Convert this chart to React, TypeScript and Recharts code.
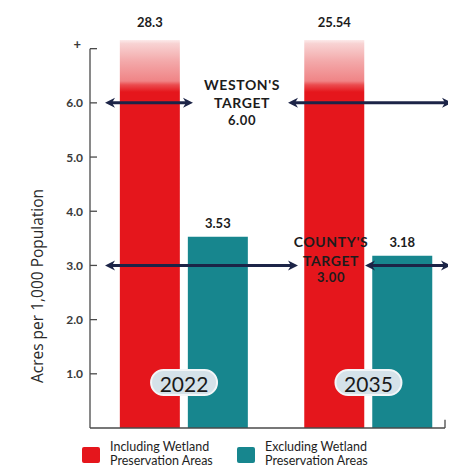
import React from 'react';
import { BarChart, Bar, XAxis, YAxis, ReferenceLine, LabelList, Label } from 'recharts';

// ---- data ----
const years = ['2022', '2035'];
const includingWetland = [28.3, 25.54];
const excludingWetland = [3.53, 3.18];
const targetNames = ["WESTON'S", "COUNTY'S"];
const targetValues = [6.0, 3.0];
const yTickValues = [1, 2, 3, 4, 5, 6, 7];
const yTickLabels = ['1.0', '2.0', '3.0', '4.0', '5.0', '6.0', '+'];
const seriesLines = [
  ['Including Wetland', 'Preservation Areas'],
  ['Excluding Wetland', 'Preservation Areas'],
];
const yAxisTitle = 'Acres per 1,000 Population';

const data = years.map((year, i) => ({
  x: i,
  year,
  incl: includingWetland[i],
  excl: excludingWetland[i],
}));

// ---- layout / style ----
const W = 448;
const H = 466;
const Y_MAX = 7.16;
const X_MIN = -0.51;
const X_MAX = 1.415;
const RED = '#e5161c';
const TEAL = '#17868e';
const NAVY = '#1c2447';
const INK = '#1c1c1c';
const AXIS = '#4a4a4a';
const FONT = 'Lato, "Open Sans", sans-serif';

const targetLayout = [
  { left: [97, 185], right: [280, 444], textX: 234, dy: [-18, 0, 17] },
  { left: [97, 290], right: [357, 443], textX: 323, dy: [-24, -5, 12] },
];

const Arrow = ({ xa, xb, y }: { xa: number; xb: number; y: number }) => (
  <g>
    <line x1={xa + 6} x2={xb - 6} y1={y} y2={y} stroke={NAVY} strokeWidth={3} />
    <polygon points={`${xa},${y} ${xa + 10},${y - 5} ${xa + 7},${y} ${xa + 10},${y + 5}`} fill={NAVY} />
    <polygon points={`${xb},${y} ${xb - 10},${y - 5} ${xb - 7},${y} ${xb - 10},${y + 5}`} fill={NAVY} />
  </g>
);

const makeTargetShape = (i: number) => (props: any) => {
  const y = props.y1;
  const L = targetLayout[i];
  const tStyle = {
    fontFamily: FONT,
    fontWeight: 700,
    fontSize: 14,
    letterSpacing: 0.6,
    fill: INK,
  } as any;
  return (
    <g>
      <Arrow xa={L.left[0]} xb={L.left[1]} y={y} />
      <Arrow xa={L.right[0]} xb={L.right[1]} y={y} />
      <text x={L.textX} y={y + L.dy[0]} textAnchor="middle" dominantBaseline="central" style={tStyle}>
        {targetNames[i]}
      </text>
      <text x={L.textX} y={y + L.dy[1]} textAnchor="middle" dominantBaseline="central" style={tStyle}>
        TARGET
      </text>
      <text x={L.textX} y={y + L.dy[2]} textAnchor="middle" dominantBaseline="central" style={{ ...tStyle, fontSize: 13 }}>
        {targetValues[i].toFixed(2)}
      </text>
    </g>
  );
};

const YTick = (props: any) => {
  const { x, y, payload } = props;
  const idx = yTickValues.indexOf(payload.value);
  if (idx < 0) return null;
  const label = yTickLabels[idx];
  const axisX = x + 7;
  return (
    <g>
      <line x1={axisX} x2={axisX + 7} y1={y} y2={y} stroke={AXIS} strokeWidth={1.3} />
      <text
        x={label === '+' ? x - 2 : x}
        y={label === '+' ? y - 5 : y}
        textAnchor="end"
        dominantBaseline="central"
        fontFamily={FONT}
        fontSize={label === '+' ? 13 : 12}
        fontWeight={700}
        fill="#3a3a3a"
      >
        {label}
      </text>
    </g>
  );
};

const XTick = (props: any) => {
  const { x, y, payload } = props;
  const year = years[payload.value];
  if (year === undefined) return null;
  const cy = y - 45.5;
  return (
    <g>
      <rect x={x - 33} y={cy - 12.5} width={66} height={25} rx={12.5} fill="#d5e2e9" stroke="#f3f6f8" strokeWidth={2} />
      <text x={x} y={cy + 1} textAnchor="middle" dominantBaseline="central" fontFamily={FONT} fontSize={21} fill="#1a1a1a">
        {year}
      </text>
    </g>
  );
};

const RedValueLabel = (props: any) => {
  const vb = props.viewBox || props;
  const { x, y, width, height } = vb;
  const value = props.value;
  const bottom = y + height;
  const plotTop = bottom - (height * Y_MAX) / value;
  return (
    <text
      x={x + width / 2}
      y={plotTop - 18}
      textAnchor="middle"
      dominantBaseline="central"
      fontFamily={FONT}
      fontWeight={700}
      fontSize={13}
      fill={INK}
    >
      {value}
    </text>
  );
};

const YTitle = (props: any) => {
  const vb = props.viewBox;
  const cx = vb.x + 29;
  const cy = vb.y + vb.height / 2 + 52;
  return (
    <text
      x={cx}
      y={cy}
      transform={`rotate(-90, ${cx}, ${cy})`}
      textAnchor="middle"
      dominantBaseline="central"
      fontFamily='"Open Sans", sans-serif'
      fontSize={15.5}
      fill="#2a2a2a"
    >
      {yAxisTitle}
    </text>
  );
};

export default function App() {
  return (
    <div style={{ position: 'relative', width: W, height: H, fontFamily: FONT }}>
      <BarChart
        width={W}
        height={H}
        data={data}
        margin={{ top: 32, right: 11, left: 0, bottom: 45 }}
        barGap={8}
        barSize={60}
      >
        <defs>
          <linearGradient id="redFade" gradientUnits="userSpaceOnUse" x1="0" y1="29" x2="0" y2="84">
            <stop offset="0" stopColor="#ffffff" />
            <stop offset="0.12" stopColor="#f8d3d3" />
            <stop offset="0.45" stopColor="#f3a8a9" />
            <stop offset="0.8" stopColor="#f08486" />
            <stop offset="0.87" stopColor="#eb4c4f" />
            <stop offset="1" stopColor={RED} />
          </linearGradient>
        </defs>
        <YAxis
          type="number"
          domain={[0, Y_MAX]}
          allowDataOverflow
          ticks={yTickValues}
          width={82}
          axisLine={false}
          tickLine={false}
          tickSize={0}
          tickMargin={7}
          tick={<YTick />}
          interval={0}
        >
          <Label content={<YTitle />} />
        </YAxis>
        <Bar dataKey="incl" fill="url(#redFade)" isAnimationActive={false}>
          <LabelList dataKey="incl" content={<RedValueLabel />} />
        </Bar>
        <Bar dataKey="excl" fill={TEAL} isAnimationActive={false}>
          <LabelList
            dataKey="excl"
            position="top"
            offset={9}
            style={{ fontFamily: FONT, fontWeight: 700, fontSize: 13, fill: INK }}
          />
        </Bar>
        <ReferenceLine
          segment={[{ x: X_MIN, y: 0 }, { x: X_MIN, y: 7 }]}
          stroke={AXIS}
          strokeWidth={1.3}
          ifOverflow="visible"
        />
        <ReferenceLine
          segment={[{ x: X_MAX, y: 0 }, { x: X_MAX, y: 0.15 }]}
          stroke={AXIS}
          strokeWidth={1.3}
          ifOverflow="visible"
        />
        {targetValues.map((v, i) => (
          <ReferenceLine key={i} y={v} ifOverflow="visible" shape={makeTargetShape(i)} />
        ))}
        <XAxis
          type="number"
          dataKey="x"
          domain={[X_MIN, X_MAX]}
          ticks={[0, 1]}
          allowDataOverflow
          height={1}
          axisLine={{ stroke: AXIS, strokeWidth: 1.3 }}
          tickLine={false}
          tickSize={0}
          tickMargin={0}
          tick={<XTick />}
          interval={0}
        />
      </BarChart>
      {seriesLines.map((lines, i) => (
        <div
          key={i}
          style={{
            position: 'absolute',
            left: i === 0 ? 74 : 229,
            top: 432,
            display: 'flex',
            alignItems: 'flex-start',
          }}
        >
          <div
            style={{
              width: 18,
              height: 16,
              marginTop: 7,
              background: i === 0 ? RED : TEAL,
              borderRadius: 2,
            }}
          />
          <div
            style={{
              marginLeft: 10,
              fontFamily: FONT,
              fontSize: 12.5,
              lineHeight: '14px',
              color: '#1e1e1e',
              whiteSpace: 'nowrap',
            }}
          >
            {lines.map((l, j) => (
              <div key={j}>{l}</div>
            ))}
          </div>
        </div>
      ))}
    </div>
  );
}
